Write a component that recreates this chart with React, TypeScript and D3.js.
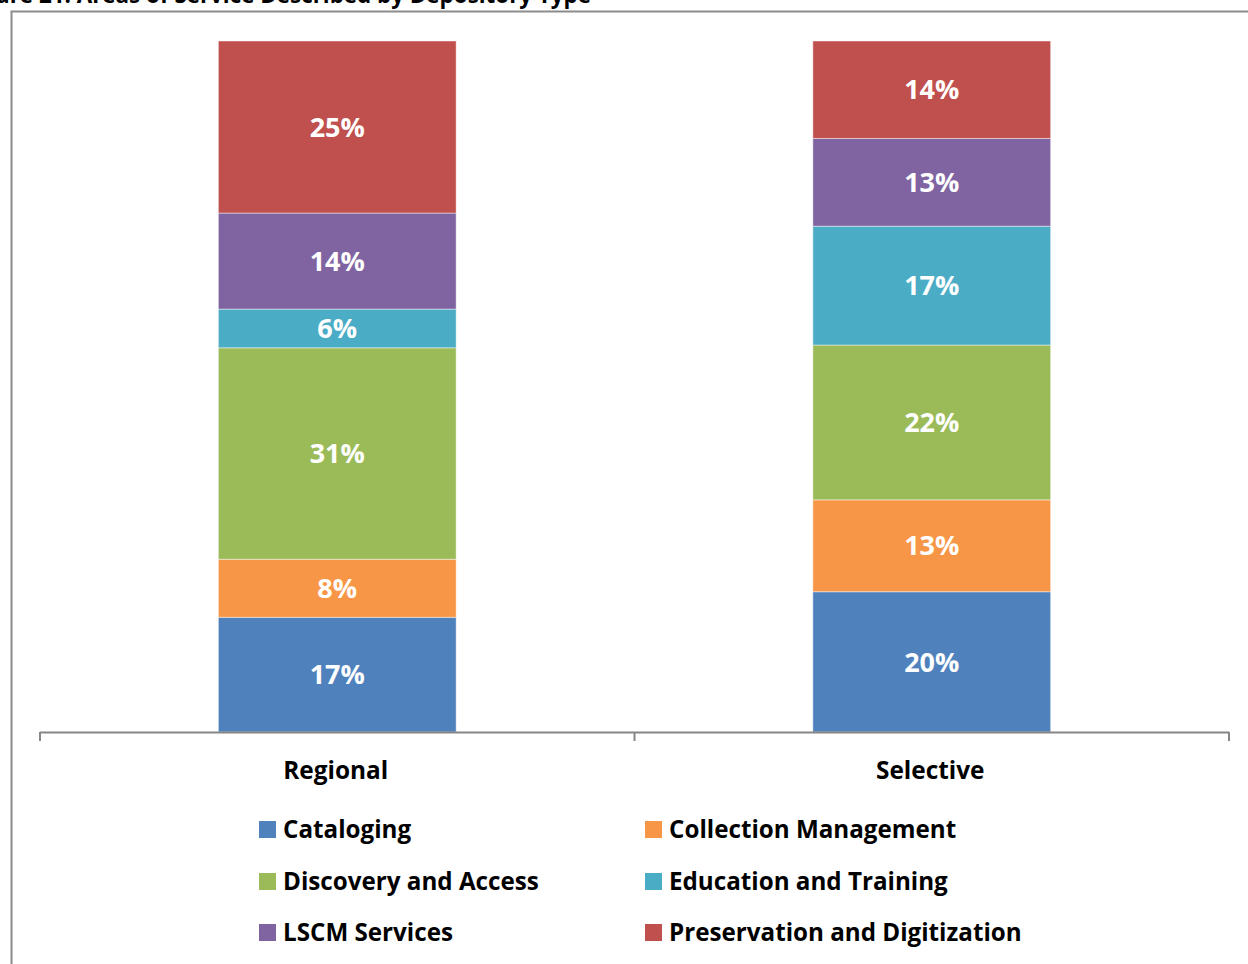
import React, { useEffect } from "react";
import * as d3 from "d3";

const categories = ["Regional", "Selective"];
const seriesNames = [
  "Cataloging",
  "Collection Management",
  "Discovery and Access",
  "Education and Training",
  "LSCM Services",
  "Preservation and Digitization",
];
const seriesColors = ["#4F81BD", "#F79646", "#9BBB59", "#4BACC6", "#8064A2", "#C0504D"];
// percentage shares per category, in series order
const regionalValues = [16.6, 8.4, 30.6, 5.6, 13.9, 24.9];
const selectiveValues = [20.3, 13.3, 22.4, 17.2, 12.7, 14.1];
const titleText = "Figure 21: Areas of Service Described by Depository Type";

const W = 1248;
const H = 964;
const FONT = "'Open Sans', Lato, sans-serif";

export default function App() {
  useEffect(() => {
    document.body.style.margin = "0";
  }, []);

  const plotLeft = 40;
  const plotRight = 1229;
  const plotTop = 41;
  const plotBottom = 732;

  const x = d3
    .scaleBand<string>()
    .domain(categories)
    .range([plotLeft, plotRight])
    .paddingInner(0.6)
    .paddingOuter(0.3);
  const y = d3.scaleLinear().domain([0, 100]).range([plotBottom, plotTop]);

  const valuesByCat: Record<string, number[]> = {
    Regional: regionalValues,
    Selective: selectiveValues,
  };
  const table = categories.map((c) => {
    const row: any = { cat: c };
    seriesNames.forEach((s, i) => (row[s] = valuesByCat[c][i]));
    return row;
  });
  const stacked = d3.stack<any>().keys(seriesNames)(table);

  // tick marks at the edges of each category slot
  const edges = [plotLeft, plotLeft + (plotRight - plotLeft) / 2, plotRight];

  const legendRows = [
    [0, 1],
    [2, 3],
    [4, 5],
  ];
  const legendColX = [259, 645];
  const legendRowY = [821, 873, 924];

  return (
    <svg width={W} height={H} style={{ display: "block" }} fontFamily={FONT}>
      <rect x={0} y={0} width={W} height={H} fill="#fff" />
      <text x={591} y={3} textAnchor="end" fontSize={22.4} fontWeight={700} fill="#000">
        {titleText}
      </text>
      <rect x={11.5} y={11.5} width={1400} height={1100} fill="none" stroke="#8c8c8c" strokeWidth={2} />

      {stacked.map((layer, i) => (
        <g key={layer.key} fill={seriesColors[i]}>
          {layer.map((d: any) => {
            const cat = d.data.cat;
            const bx = x(cat) as number;
            const y0 = y(d[0]);
            const y1 = y(d[1]);
            const val = valuesByCat[cat][i];
            return (
              <g key={cat}>
                <rect
                  x={bx}
                  y={y1}
                  width={x.bandwidth()}
                  height={y0 - y1}
                  stroke="#ffffff"
                  strokeOpacity={0.45}
                  strokeWidth={1}
                />
                <text
                  x={bx + x.bandwidth() / 2}
                  y={(y0 + y1) / 2}
                  dy="0.357em"
                  textAnchor="middle"
                  fill="#fff"
                  fontSize={27}
                  fontWeight={700}
                >
                  {`${Math.round(val)}%`}
                </text>
              </g>
            );
          })}
        </g>
      ))}

      <g stroke="#868686" strokeWidth={2} fill="none">
        <line x1={plotLeft} x2={plotRight} y1={plotBottom + 0.5} y2={plotBottom + 0.5} />
        {edges.map((ex, i) => (
          <line key={i} x1={ex} x2={ex} y1={plotBottom} y2={plotBottom + 9} />
        ))}
      </g>

      {categories.map((c) => (
        <text
          key={c}
          x={(x(c) as number) + x.bandwidth() / 2 - 1.5}
          y={779}
          textAnchor="middle"
          fontSize={24.4}
          fontWeight={700}
          fill="#000"
        >
          {c}
        </text>
      ))}

      {legendRows.map((row, r) =>
        row.map((si, ci) => (
          <g key={si} transform={`translate(${legendColX[ci]},${legendRowY[r]})`}>
            <rect x={0} y={0} width={17} height={17} fill={seriesColors[si]} />
            <text x={24} y={17} fontSize={24.2} fontWeight={700} fill="#000">
              {seriesNames[si]}
            </text>
          </g>
        ))
      )}
    </svg>
  );
}
